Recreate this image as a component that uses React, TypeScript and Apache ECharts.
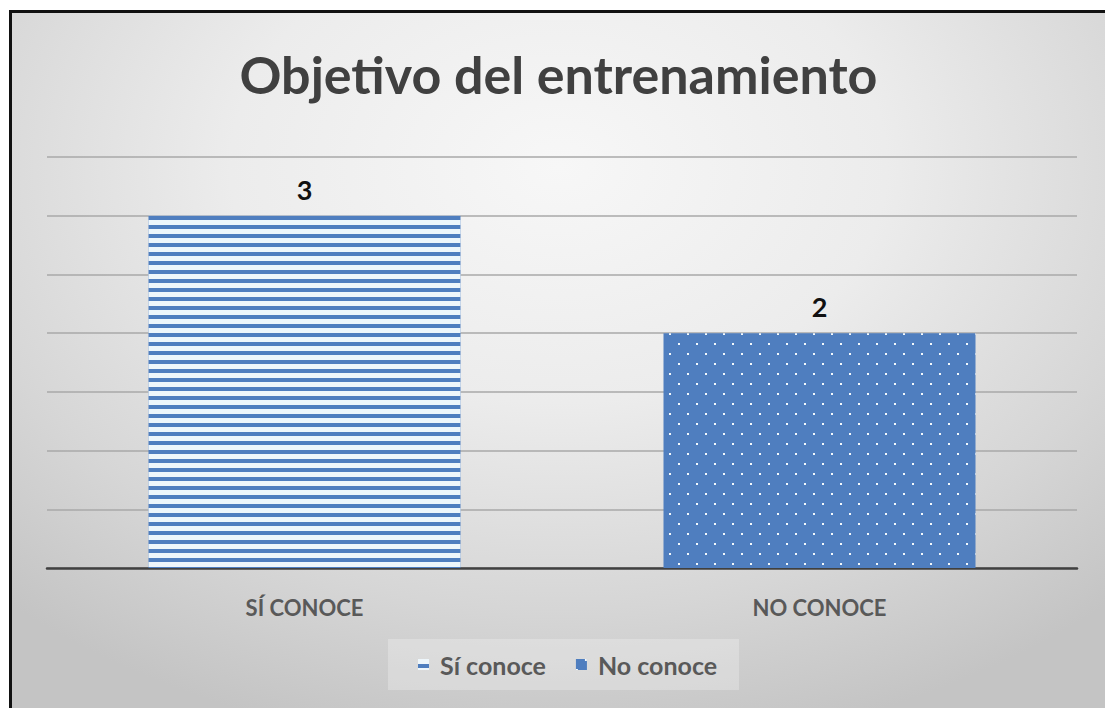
import React, { useEffect, useRef } from "react";
import * as echarts from "echarts";

const TITLE = "Objetivo del entrenamiento";
const categories = ["SÍ CONOCE", "NO CONOCE"];
const seriesNames = ["Sí conoce", "No conoce"];
const siConoce = [3, "-"];
const noConoce = ["-", 2];
const yMin = 0;
const yMax = 3.5;
const yInterval = 0.5;

const BLUE = "#4F7EBF";
const FONT = "Lato, 'Open Sans', sans-serif";

export default function App() {
  const ref = useRef<HTMLDivElement>(null);
  useEffect(() => {
    if (!ref.current) return;
    const chart = echarts.init(ref.current, undefined, { renderer: "svg" });
    chart.setOption({
      animation: false,
      textStyle: { fontFamily: FONT },
      title: {
        text: TITLE,
        left: "center",
        top: 30,
        textStyle: { fontFamily: FONT, fontSize: 52, fontWeight: "bold", color: "#404040" },
      },
      grid: { left: 35, right: 28, top: 144, bottom: 140, containLabel: false },
      legend: {
        left: 376,
        top: 626,
        padding: [13, 22, 13, 30],
        itemGap: 30,
        itemWidth: 11,
        itemHeight: 11,
        icon: "rect",
        backgroundColor: "rgba(255,255,255,0.25)",
        data: seriesNames,
        textStyle: { fontFamily: FONT, fontSize: 25, fontWeight: "bold", color: "#595959", padding: [0, 0, 0, 6] },
      },
      xAxis: {
        type: "category",
        data: categories,
        axisLine: { lineStyle: { color: "#404040", width: 2.5 } },
        axisTick: { show: false },
        axisLabel: {
          margin: 28,
          fontFamily: FONT,
          fontSize: 22,
          fontWeight: "bold",
          color: "#595959",
        },
      },
      yAxis: {
        type: "value",
        min: yMin,
        max: yMax,
        interval: yInterval,
        axisLabel: { show: false },
        axisLine: { show: false },
        axisTick: { show: false },
        splitLine: { lineStyle: { color: "#a9a9a9", width: 1.5 } },
      },
      series: [
        {
          name: seriesNames[0],
          type: "bar",
          stack: "all",
          barWidth: 312,
          data: siConoce,
          itemStyle: {
            color: BLUE,
            decal: {
              symbol: "rect",
              symbolSize: 1,
              color: "#eef6fb",
              dashArrayX: [1, 0],
              dashArrayY: [5, 4],
              rotation: 0,
            },
          },
          label: {
            show: true,
            position: "top",
            distance: 13,
            fontFamily: FONT,
            fontSize: 27,
            fontWeight: "bold",
            color: "#111111",
          },
        },
        {
          name: seriesNames[1],
          type: "bar",
          stack: "all",
          barWidth: 312,
          data: noConoce,
          itemStyle: {
            color: BLUE,
            decal: {
              symbol: "rect",
              symbolSize: 1,
              color: "#f2f8fc",
              dashArrayX: [
                [2, 16],
                [0, 9, 2, 7],
              ],
              dashArrayY: [2, 8],
              rotation: 0,
            },
          },
          label: {
            show: true,
            position: "top",
            distance: 13,
            fontFamily: FONT,
            fontSize: 27,
            fontWeight: "bold",
            color: "#111111",
          },
        },
      ],
    });
    return () => chart.dispose();
  }, []);

  return (
    <div
      style={{
        position: "fixed",
        left: 0,
        top: 0,
        width: 1105,
        height: 708,
        background: "#ffffff",
        overflow: "hidden",
      }}
    >
      <div
        style={{
          position: "absolute",
          left: 9,
          top: 10,
          width: 1096,
          height: 698,
          boxSizing: "border-box",
          borderTop: "3px solid #111111",
          borderLeft: "3px solid #111111",
          background:
            "radial-gradient(ellipse 75% 85% at 50% 22%, #f7f7f7 0%, #ececec 40%, #d6d6d6 75%, #c4c4c4 100%)",
        }}
      >
        <div ref={ref} style={{ width: 1093, height: 695 }} />
      </div>
    </div>
  );
}
